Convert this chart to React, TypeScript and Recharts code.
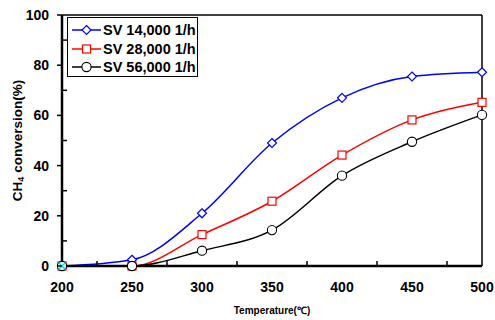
import { LineChart, Line, XAxis, YAxis, ReferenceLine } from 'recharts';

// temperatures (℃) and CH4 conversion (%) per space velocity
const temps = [200, 250, 300, 350, 400, 450, 500];
const sv14000 = [0, 2.5, 21, 49, 67, 75.5, 77.2];
const sv28000 = [0, 0, 12.5, 25.8, 44.2, 58.2, 65.2];
const sv56000 = [0, 0, 6.1, 14.3, 36, 49.5, 60.2];
const startMark = [0, null, null, null, null, null, null];
const seriesNames = ['SV 14,000 1/h', 'SV 28,000 1/h', 'SV 56,000 1/h'];
const xTicks = [200, 225, 250, 275, 300, 325, 350, 375, 400, 425, 450, 475, 500];
const yTicks = [0, 10, 20, 30, 40, 50, 60, 70, 80, 90, 100];

const data = temps.map((t, i) => ({
  t,
  a: sv14000[i],
  b: sv28000[i],
  c: sv56000[i],
  m: startMark[i],
}));

const FONT = 'Arial, "Liberation Sans", sans-serif';

const Diamond = (p: any) => {
  const { cx, cy } = p;
  if (cx == null || cy == null) return null;
  const s = 4.5;
  return (
    <path
      key={`d${p.index}`}
      d={`M${cx},${cy - s}L${cx + s},${cy}L${cx},${cy + s}L${cx - s},${cy}Z`}
      fill="#fff"
      stroke="#0000ff"
      strokeWidth={1.2}
    />
  );
};

const Square = (p: any) => {
  const { cx, cy } = p;
  if (cx == null || cy == null) return null;
  return (
    <rect key={`s${p.index}`} x={cx - 4} y={cy - 4} width={8} height={8} fill="#fff" stroke="#ff0000" strokeWidth={1.2} />
  );
};

const Circle = (p: any) => {
  const { cx, cy } = p;
  if (cx == null || cy == null) return null;
  return <circle key={`c${p.index}`} cx={cx} cy={cy} r={4.6} fill="#fff" stroke="#000" strokeWidth={1.1} />;
};

const Cross = (p: any) => {
  const { cx, cy, value } = p;
  if (cx == null || cy == null || value == null) return null;
  const s = 3.5;
  return (
    <path
      key={`x${p.index}`}
      d={`M${cx - s},${cy - s}L${cx + s},${cy + s}M${cx - s},${cy + s}L${cx + s},${cy - s}`}
      stroke="#00e5e5"
      strokeWidth={1.5}
    />
  );
};

const XTick = (p: any) => {
  const { x, y, payload } = p;
  const v = payload.value;
  const major = v % 50 === 0;
  return (
    <g>
      {!major && <line x1={x} x2={x} y1={y} y2={y - 5} stroke="#000" strokeWidth={1.5} />}
      {major && (
        <text x={x} y={y + 26} textAnchor="middle" fontFamily={FONT} fontWeight="bold" fontSize={14} fill="#000">
          {v}
        </text>
      )}
    </g>
  );
};

const YTick = (p: any) => {
  const { x, y, payload } = p;
  const v = payload.value;
  const major = v % 20 === 0;
  return (
    <g>
      {major ? (
        <line x1={x - 5} x2={x} y1={y} y2={y} stroke="#000" strokeWidth={1.5} />
      ) : (
        <line x1={x} x2={x + 5} y1={y} y2={y} stroke="#000" strokeWidth={1.5} />
      )}
      {major && (
        <text x={x - 13} y={y + 5} textAnchor="end" fontFamily={FONT} fontWeight="bold" fontSize={14} fill="#000">
          {v}
        </text>
      )}
    </g>
  );
};

const legendIcons = [
  (cx: number, cy: number) => (
    <path d={`M${cx},${cy - 4.5}L${cx + 4.5},${cy}L${cx},${cy + 4.5}L${cx - 4.5},${cy}Z`} fill="#fff" stroke="#0000ff" strokeWidth={1.2} />
  ),
  (cx: number, cy: number) => <rect x={cx - 4} y={cy - 4} width={8} height={8} fill="#fff" stroke="#ff0000" strokeWidth={1.2} />,
  (cx: number, cy: number) => <circle cx={cx} cy={cy} r={4.6} fill="#fff" stroke="#000" strokeWidth={1.1} />,
];
const legendColors = ['#0000ff', '#ff0000', '#000'];

const LegendBox = () => (
  <div
    style={{
      position: 'absolute',
      left: 67,
      top: 17,
      border: '1px solid #000',
      background: '#fff',
      width: 131,
      height: 60,
      padding: '3px 0 0 4px',
      boxSizing: 'border-box',
    }}
  >
    {seriesNames.map((name, i) => (
      <div key={name} style={{ display: 'flex', alignItems: 'center', height: 18.5 }}>
        <svg width={31} height={12}>
          <line x1={0} x2={29} y1={6} y2={6} stroke={legendColors[i]} strokeWidth={1.5} />
          {legendIcons[i](14.5, 6)}
        </svg>
        <span style={{ fontFamily: FONT, fontWeight: 'bold', fontSize: 14.5, color: '#000', whiteSpace: 'nowrap' }}>
          {name}
        </span>
      </div>
    ))}
  </div>
);

const YLabel = () => (
  <text
    transform="translate(22,140.5) rotate(-90)"
    textAnchor="middle"
    fontFamily={FONT}
    fontWeight="bold"
    fontSize={13.5}
    fill="#000"
  >
    CH<tspan fontSize={9} dy={2}>4</tspan>
    <tspan dy={-2}> conversion(%)</tspan>
  </text>
);

const XLabel = () => (
  <text x={272} y={314} textAnchor="middle" fontFamily={FONT} fontWeight="bold" fontSize={10} fill="#000">
    Temperature(℃)
  </text>
);

export default function App() {
  return (
    <div style={{ position: 'absolute', left: 0, top: 0, width: 495, height: 320, background: '#fff' }}>
      <LineChart width={495} height={320} data={data} margin={{ top: 15, right: 13, bottom: 24, left: 20 }}>
        <XAxis
          dataKey="t"
          type="number"
          domain={[200, 500]}
          ticks={xTicks}
          interval={0}
          tickSize={0}
          tickMargin={0}
          tickLine={false}
          tick={<XTick />}
          height={30}
          axisLine={{ stroke: '#000', strokeWidth: 2.5 }}
          label={{ content: <XLabel /> }}
        />
        <YAxis
          domain={[0, 100]}
          ticks={yTicks}
          interval={0}
          tickSize={0}
          tickMargin={0}
          tickLine={false}
          tick={<YTick />}
          width={42}
          axisLine={{ stroke: '#000', strokeWidth: 2.5 }}
          label={{ content: <YLabel /> }}
        />
        <ReferenceLine y={100} stroke="#000" strokeWidth={1.5} ifOverflow="visible" />
        <ReferenceLine x={500} stroke="#000" strokeWidth={1.5} ifOverflow="visible" />
        <Line type="monotone" dataKey="a" name={seriesNames[0]} stroke="#0000ff" strokeWidth={1.5} dot={<Diamond />} isAnimationActive={false} />
        <Line type="monotone" dataKey="b" name={seriesNames[1]} stroke="#ff0000" strokeWidth={1.5} dot={<Square />} isAnimationActive={false} />
        <Line type="monotone" dataKey="c" name={seriesNames[2]} stroke="#000" strokeWidth={1.5} dot={<Circle />} isAnimationActive={false} />
        <Line dataKey="m" stroke="none" dot={<Cross />} legendType="none" isAnimationActive={false} />
      </LineChart>
      <LegendBox />
    </div>
  );
}
